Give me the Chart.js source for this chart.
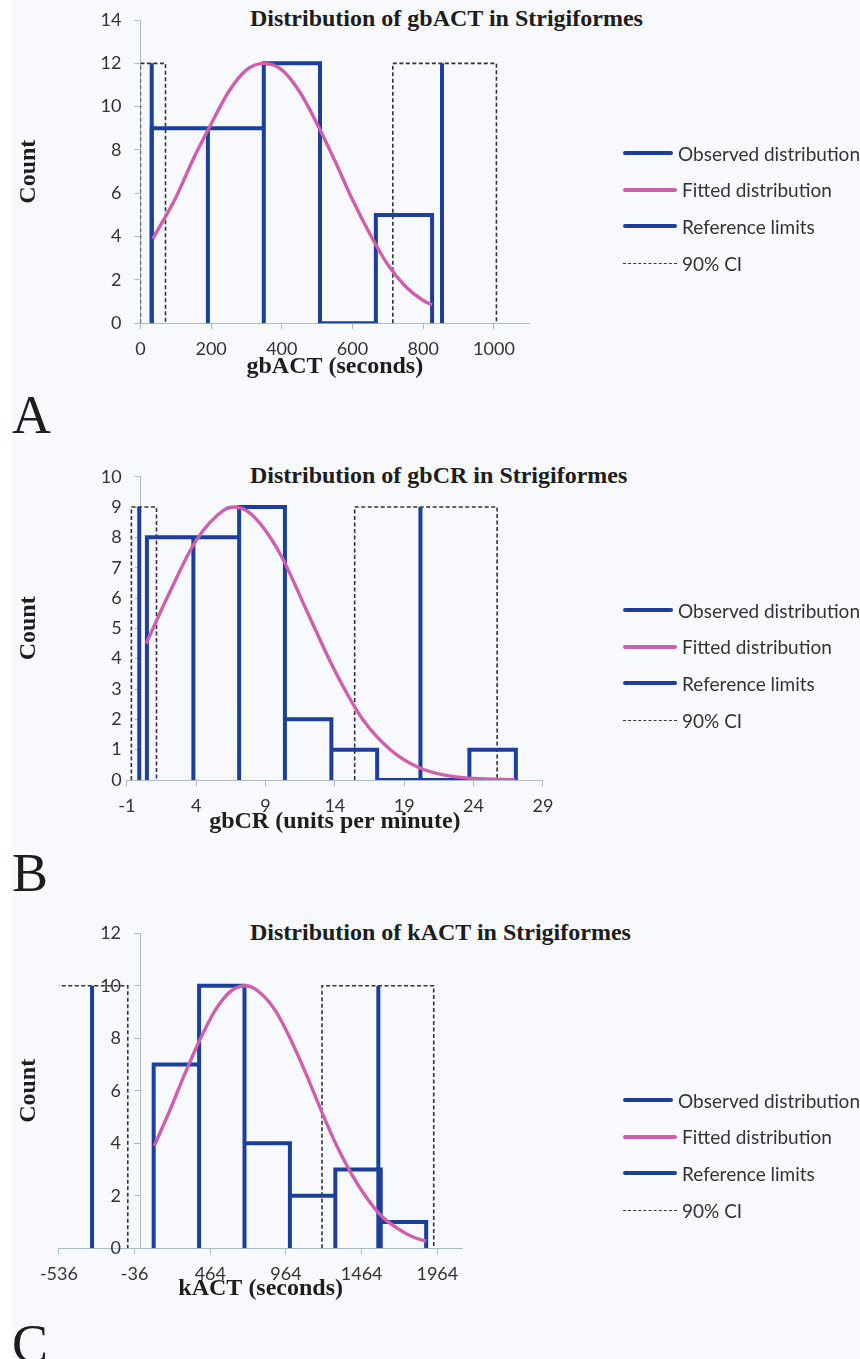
<!DOCTYPE html>
<html lang="en">
<head>
<meta charset="UTF-8">
<title>Distributions in Strigiformes</title>
<script src="https://cdn.jsdelivr.net/npm/chart.js@4.4.1/dist/chart.umd.min.js"></script>
<style>
body {
	margin: 0;
	width: 860px;
	height: 1359px;
	position: relative;
	overflow: hidden;
	background: #f8f9fc;
}

.strip {
	position: absolute;
	left: 0;
	top: 0;
	width: 12px;
	height: 1359px;
	background: #ffffff;
}

.panel {
	position: absolute;
	left: 0;
	width: 860px;
}

.title {
	position: absolute;
	left: 250px;
	font: bold 24px/28px "Liberation Serif", serif;
	color: #1d1d1d;
	white-space: nowrap;
}

.legend {
	position: absolute;
	left: 623px;
	width: 237px;
	overflow: hidden;
}

.legend div {
	height: 36.6px;
	display: flex;
	align-items: center;
	font: 19px Lato, sans-serif;
	color: #333333;
	white-space: nowrap;
}

.legend i {
	display: inline-block;
	width: 54px;
	height: 0;
	margin-right: 5px;
	border-top: 4px solid #1c3f9b;
	border-radius: 2px;
}

.legend i.fit {
	border-top-color: #cf5fae;
}

.legend i.ci {
	border-top: 1.6px dashed #3a3a3a;
	border-radius: 0;
}

.letter {
	position: absolute;
	left: 12px;
	font: 54px/54px "Liberation Serif", serif;
	color: #1d1d1d;
}
</style>
</head>
<body>
<div class="strip"></div>

<div class="title" style="top:4px">Distribution of gbACT in Strigiformes</div>
<div class="panel" style="top:0px;height:379px"><canvas id="chartA" width="860" height="379"></canvas></div>
<div class="legend" style="top:135px">
	<div><i></i>Observed distribution</div>
	<div><i class="fit"></i>Fitted distribution</div>
	<div><i></i>Reference limits</div>
	<div><i class="ci"></i>90% CI</div>
</div>
<div class="letter" style="top:388px">A</div>

<div class="title" style="top:461px">Distribution of gbCR in Strigiformes</div>
<div class="panel" style="top:440px;height:394px"><canvas id="chartB" width="860" height="394"></canvas></div>
<div class="legend" style="top:592px">
	<div><i></i>Observed distribution</div>
	<div><i class="fit"></i>Fitted distribution</div>
	<div><i></i>Reference limits</div>
	<div><i class="ci"></i>90% CI</div>
</div>
<div class="letter" style="top:846px">B</div>

<div class="title" style="top:918px">Distribution of kACT in Strigiformes</div>
<div class="panel" style="top:900px;height:401px"><canvas id="chartC" width="860" height="401"></canvas></div>
<div class="legend" style="top:1082px">
	<div><i></i>Observed distribution</div>
	<div><i class="fit"></i>Fitted distribution</div>
	<div><i></i>Reference limits</div>
	<div><i class="ci"></i>90% CI</div>
</div>
<div class="letter" style="top:1317px">C</div>

<script>
// A: gbACT (seconds)
const binEdgesA = [32, 191, 349, 508, 666, 825];
const countsA = [9, 9, 12, 0, 5];
const fitXA = [35, 100, 150, 200, 250, 300, 350, 400, 450, 500, 550, 600, 650, 700, 750, 800, 825];
const fitYA = [3.9, 5.8, 7.6, 9.2, 10.7, 11.7, 12.0, 11.7, 10.7, 9.2, 7.5, 5.7, 4.1, 2.7, 1.7, 1.05, 0.85];
const refLimitsA = [32, 853];
const ciLowA = [0, 714];
const ciHighA = [71, 1007];
const xTicksA = [0, 200, 400, 600, 800, 1000];
const yTicksA = [0, 2, 4, 6, 8, 10, 12, 14];

// B: gbCR (units per minute)
const binEdgesB = [0.45, 3.8, 7.1, 10.4, 13.75, 17.05, 20.4, 23.7, 27.05];
const countsB = [8, 8, 9, 2, 1, 0, 0, 1];
const fitXB = [0.4, 2, 4, 6, 6.8, 8, 10, 12, 14, 16, 18, 20, 22, 24, 27];
const fitYB = [4.5, 6.1, 7.9, 8.9, 9.0, 8.75, 7.5, 5.55, 3.6, 2.0, 1.0, 0.42, 0.15, 0.05, 0.01];
const refLimitsB = [-0.1, 20.17];
const ciLowB = [-0.67, 15.43];
const ciHighB = [1.14, 25.7];
const xTicksB = [-1, 4, 9, 14, 19, 24, 29];
const yTicksB = [0, 1, 2, 3, 4, 5, 6, 7, 8, 9, 10];

// C: kACT (seconds)
const binEdgesC = [90, 390, 690, 990, 1290, 1590, 1890];
const countsC = [7, 10, 4, 2, 3, 1];
const fitXC = [94, 200, 300, 400, 500, 600, 700, 800, 900, 1000, 1100, 1200, 1300, 1400, 1500, 1600, 1700, 1800, 1890];
const fitYC = [3.9, 5.3, 6.7, 8.0, 9.1, 9.8, 10.0, 9.7, 9.0, 7.9, 6.6, 5.2, 3.9, 2.8, 1.9, 1.2, 0.76, 0.44, 0.27];
const refLimitsC = [-317, 1574];
const ciLowC = [-560, 1202];
const ciHighC = [-81, 1940];
const xTicksC = [-536, -36, 464, 964, 1464, 1964];
const yTicksC = [0, 2, 4, 6, 8, 10, 12];

const axisColor = '#a9bccb';
const blue = '#1c3f9b';
const pink = '#cf5fae';

// histogram outline: up, across, down for every bin
function outline(edges, counts) {
	const pts = [{x: edges[0], y: 0}];
	counts.forEach((c, i) => {
		pts.push({x: edges[i], y: c}, {x: edges[i + 1], y: c}, {x: edges[i + 1], y: 0});
	});
	return pts;
}

function verticals(xs, h) {
	const pts = [];
	xs.forEach((x, i) => {
		if (i) pts.push({x: x, y: null});
		pts.push({x: x, y: 0}, {x: x, y: h});
	});
	return pts;
}

function boxes(lo, hi, h) {
	const pts = [];
	lo.forEach((l, i) => {
		if (i) pts.push({x: l, y: null});
		pts.push({x: l, y: 0}, {x: l, y: h}, {x: hi[i], y: h}, {x: hi[i], y: 0});
	});
	return pts;
}

function zip(xs, ys) {
	return xs.map((x, i) => ({x: x, y: ys[i]}));
}

// the value axis crosses the category axis at x = 0, like the Excel original
const crossAtZero = {
	id: 'crossAtZero',
	afterLayout(chart) {
		const px = chart.scales.x.getPixelForValue(0);
		const y = chart.scales.y;
		y.left = px - 60;
		y.right = px;
		y.width = 60;
	}
};

function makeChart(id, p) {
	const peak = Math.max(...p.counts);
	new Chart(document.getElementById(id), {
		type: 'line',
		data: {
			datasets: [{
				label: 'Observed distribution',
				data: outline(p.edges, p.counts),
				borderColor: blue,
				borderWidth: 4,
				order: 1
			}, {
				label: 'Fitted distribution',
				data: zip(p.fitX, p.fitY),
				borderColor: pink,
				borderWidth: 3.4,
				cubicInterpolationMode: 'monotone',
				order: 0
			}, {
				label: 'Reference limits',
				data: verticals(p.refs, peak),
				borderColor: blue,
				borderWidth: 4,
				order: 2
			}, {
				label: '90% CI',
				data: boxes(p.ciLow, p.ciHigh, peak),
				borderColor: '#333333',
				borderWidth: 1.6,
				borderDash: [4, 2.5],
				order: 3
			}]
		},
		plugins: [crossAtZero],
		options: {
			responsive: false,
			animation: false,
			spanGaps: false,
			elements: {
				point: { radius: 0, hoverRadius: 0 },
				line: { tension: 0, borderCapStyle: 'butt', borderJoinStyle: 'miter' }
			},
			layout: {
				padding: { left: 10, right: p.padRight, top: p.padTop, bottom: 0 }
			},
			plugins: {
				legend: { display: false },
				tooltip: { enabled: false },
				title: {
					display: true,
					text: 'Count',
					position: 'left',
					fullSize: false,
					color: '#1d1d1d',
					font: { family: 'Liberation Serif', size: 24, weight: 'bold', lineHeight: 1.2 },
					padding: { top: 4.2, bottom: p.countGap }
				}
			},
			scales: {
				x: {
					type: 'linear',
					position: 'bottom',
					min: p.xMin,
					max: p.xMax,
					afterBuildTicks: s => { s.ticks = p.xTicks.map(v => ({value: v})); },
					afterFit: s => { s.height = p.xHeight; s.paddingLeft = 0; s.paddingRight = 0; },
					ticks: {
						autoSkip: false,
						maxRotation: 0,
						padding: 9,
						color: '#333333',
						font: { family: 'Lato', size: 18 },
						callback: v => String(v)
					},
					grid: { drawOnChartArea: false, tickLength: 6, color: axisColor },
					border: { color: axisColor },
					title: {
						display: true,
						text: p.xTitle,
						color: '#1d1d1d',
						font: { family: 'Liberation Serif', size: 24, weight: 'bold', lineHeight: 1 },
						padding: { top: 0, bottom: 0 }
					}
				},
				y: {
					type: 'linear',
					position: 'left',
					min: 0,
					max: p.yTicks[p.yTicks.length - 1],
					afterBuildTicks: s => { s.ticks = p.yTicks.map(v => ({value: v})); },
					afterFit: s => { s.width = 0; s.paddingTop = 0; s.paddingBottom = 0; },
					ticks: {
						padding: 13,
						color: '#333333',
						font: { family: 'Lato', size: 18 },
						callback: v => String(v)
					},
					grid: { drawOnChartArea: false, tickLength: 6, color: axisColor },
					border: { color: axisColor }
				}
			}
		}
	});
}

makeChart('chartA', {
	edges: binEdgesA, counts: countsA, fitX: fitXA, fitY: fitYA,
	refs: refLimitsA, ciLow: ciLowA, ciHigh: ciHighA,
	xTicks: xTicksA, yTicks: yTicksA, xMin: 0, xMax: 1100,
	xTitle: 'gbACT (seconds)',
	padTop: 20, padRight: 330.7, countGap: 97.4, xHeight: 55.7
});

makeChart('chartB', {
	edges: binEdgesB, counts: countsB, fitX: fitXB, fitY: fitYB,
	refs: refLimitsB, ciLow: ciLowB, ciHigh: ciHighB,
	xTicks: xTicksB, yTicks: yTicksB, xMin: -1, xMax: 29,
	xTitle: 'gbCR (units per minute)',
	padTop: 36.7, padRight: 317.1, countGap: 83.8, xHeight: 54
});

makeChart('chartC', {
	edges: binEdgesC, counts: countsC, fitX: fitXC, fitY: fitYC,
	refs: refLimitsC, ciLow: ciLowC, ciHigh: ciHighC,
	xTicks: xTicksC, yTicks: yTicksC, xMin: -536, xMax: 2130,
	xTitle: 'kACT (seconds)',
	padTop: 33.3, padRight: 397.5, countGap: 15.9, xHeight: 52.7
});
</script>
</body>
</html>
